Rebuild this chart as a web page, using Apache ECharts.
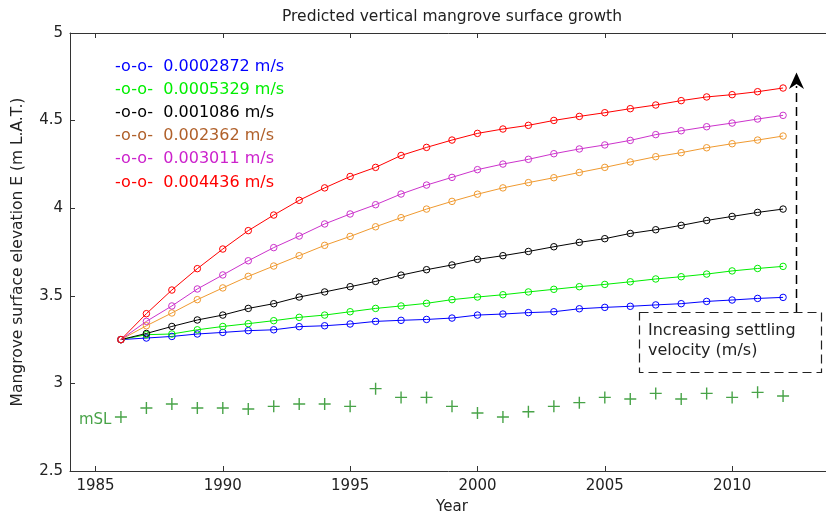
<!DOCTYPE html>
<html>
<head>
<meta charset="utf-8">
<script src="https://cdn.jsdelivr.net/npm/echarts@6/dist/echarts.min.js"></script>
<style>
  html,body{margin:0;padding:0;background:#fff;}
  #main{width:826px;height:517px;}
</style>
</head>
<body>
<div id="main"></div>
<script>
// years of the model run
var years = [1986,1987,1988,1989,1990,1991,1992,1993,1994,1995,1996,1997,1998,1999,2000,
             2001,2002,2003,2004,2005,2006,2007,2008,2009,2010,2011,2012];
var xTicks = [1985,1990,1995,2000,2005,2010];

var names = ["0.0002872 m/s","0.0005329 m/s","0.001086 m/s","0.002362 m/s","0.003011 m/s","0.004436 m/s"];
var lineColors = ["#0000ff","#00ee00","#000000","#f09a30","#cc33cc","#ff0000"];
var textColors = ["#0000ff","#00ee00","#000000","#b0602a","#cc22cc","#ff0000"];

var blue = [3.25,3.259,3.268,3.282,3.291,3.301,3.306,3.324,3.329,3.339,3.354,3.36,3.365,3.373,3.39,
            3.396,3.404,3.409,3.426,3.434,3.44,3.448,3.455,3.468,3.476,3.485,3.491];
var green = [3.25,3.278,3.282,3.306,3.325,3.341,3.358,3.377,3.39,3.409,3.428,3.442,3.457,3.478,3.493,
             3.506,3.522,3.537,3.552,3.565,3.58,3.596,3.609,3.624,3.642,3.656,3.668];
var black = [3.25,3.285,3.325,3.362,3.39,3.428,3.455,3.493,3.522,3.552,3.582,3.618,3.649,3.676,3.708,
             3.729,3.753,3.78,3.805,3.826,3.856,3.877,3.902,3.93,3.953,3.976,3.995];
var orange = [3.25,3.329,3.402,3.478,3.545,3.611,3.67,3.729,3.788,3.839,3.894,3.946,3.995,4.039,4.08,
              4.116,4.146,4.174,4.204,4.233,4.264,4.294,4.317,4.345,4.368,4.389,4.412];
var magenta = [3.25,3.354,3.442,3.539,3.619,3.7,3.775,3.841,3.91,3.967,4.02,4.081,4.132,4.176,4.22,
               4.252,4.279,4.311,4.338,4.361,4.387,4.42,4.442,4.465,4.486,4.509,4.53];
var red = [3.25,3.398,3.533,3.655,3.767,3.872,3.961,4.045,4.116,4.181,4.233,4.301,4.347,4.389,4.427,
           4.452,4.473,4.501,4.524,4.545,4.568,4.589,4.614,4.635,4.648,4.665,4.686];
var msl = [2.808,2.86,2.882,2.86,2.86,2.854,2.869,2.882,2.882,2.869,2.97,2.92,2.92,2.869,2.831,
           2.808,2.838,2.869,2.89,2.92,2.911,2.943,2.911,2.943,2.92,2.949,2.928];

var FONT = "DejaVu Sans";
var MSL_GREEN = "#1a8c1a";
var chart = echarts.init(document.getElementById('main'));

function pairs(v)
{
  var out = [];
  for(var i=0;i<years.length;i++){ out.push([years[i], v[i]]); }
  return out;
}

var lines = [blue, green, black, orange, magenta, red];
var series = [];
var legendData = [];
for(var k=0;k<lines.length;k++)
{
  series.push({
    name: names[k],
    type: 'line',
    data: pairs(lines[k]),
    color: lineColors[k],
    symbol: 'circle',
    symbolSize: 6.5,
    showAllSymbol: true,
    lineStyle: {width: 1, color: lineColors[k]},
    itemStyle: {color: 'rgba(0,0,0,0)', borderColor: lineColors[k], borderWidth: 1},
    emphasis: {disabled: true},
    animation: false
  });
  legendData.push({name: names[k], textStyle: {color: textColors[k]}});
}

var mslData = pairs(msl);
mslData[0] = {
  value: mslData[0],
  label: {show: true, position: 'left', distance: 1, formatter: 'mSL',
          color: MSL_GREEN, fontFamily: FONT, fontSize: 15, offset: [0, 3]}
};
series.push({
  name: 'mSL',
  type: 'scatter',
  data: mslData,
  symbol: 'path://M6,0L6,12M0,6L12,6',
  symbolSize: 12,
  itemStyle: {color: 'none', borderColor: MSL_GREEN, borderWidth: 1.4},
  emphasis: {disabled: true},
  animation: false
});

var axisCommon = {
  type: 'value',
  min: 1984,
  max: 2014,
  axisLine: {show: true, lineStyle: {color: '#333', width: 1}},
  axisTick: {inside: true, length: 5, customValues: xTicks, lineStyle: {color: '#333'}},
  splitLine: {show: false}
};

chart.setOption({
  backgroundColor: '#fff',
  animation: false,
  title: {
    text: 'Predicted vertical mangrove surface growth',
    left: 277, top: 4,
    textStyle: {fontFamily: FONT, fontSize: 15.5, fontWeight: 'normal', color: '#222'}
  },
  legend: {
    orient: 'vertical',
    left: 105, top: 52.5,
    icon: 'none',
    itemWidth: 0,
    itemHeight: 10,
    itemGap: 5.2,
    selectedMode: false,
    formatter: '-o-o-  {name}',
    textStyle: {fontFamily: FONT, fontSize: 16, lineHeight: 18},
    data: legendData
  },
  grid: {left: 70, right: -8, top: 33, bottom: 46, outerBoundsMode: 'none', containLabel: false},
  xAxis: [
    Object.assign({}, axisCommon, {
      position: 'bottom',
      name: 'Year',
      nameLocation: 'middle',
      nameGap: 29,
      nameTextStyle: {fontFamily: FONT, fontSize: 15, color: '#222'},
      axisLabel: {customValues: xTicks, margin: 8, fontFamily: FONT, fontSize: 15, color: '#222',
                  formatter: function(v){ return String(v); }}
    }),
    Object.assign({}, axisCommon, {
      position: 'top',
      axisLabel: {show: false}
    })
  ],
  yAxis: {
    type: 'value',
    min: 2.5,
    max: 5,
    interval: 0.5,
    name: 'Mangrove surface elevation E (m L.A.T.)',
    nameLocation: 'middle',
    nameGap: 44,
    nameTextStyle: {fontFamily: FONT, fontSize: 15.5, color: '#222'},
    axisLine: {show: true, lineStyle: {color: '#333', width: 1}},
    axisTick: {inside: true, length: 5, lineStyle: {color: '#333'}},
    axisLabel: {margin: 7, fontFamily: FONT, fontSize: 15, color: '#222'},
    splitLine: {show: false}
  },
  series: series,
  graphic: [
    // dashed annotation box
    {type: 'rect', shape: {x: 639.5, y: 312.5, width: 182, height: 60},
     style: {fill: 'none', stroke: '#222', lineWidth: 1.2, lineDash: [9, 5]}},
    {type: 'text', left: 648, top: 321,
     style: {text: 'Increasing settling\nvelocity (m/s)', fontFamily: FONT, fontSize: 16,
             lineHeight: 20, fill: '#222'}},
    // dashed arrow
    {type: 'line', shape: {x1: 796.5, y1: 312, x2: 796.5, y2: 86},
     style: {stroke: '#000', lineWidth: 1.5, lineDash: [9, 5]}},
    {type: 'polygon', shape: {points: [[796.5, 72.5], [804, 89], [796.5, 84], [789, 89]]},
     style: {fill: '#000'}}
  ]
});
</script>
</body>
</html>
